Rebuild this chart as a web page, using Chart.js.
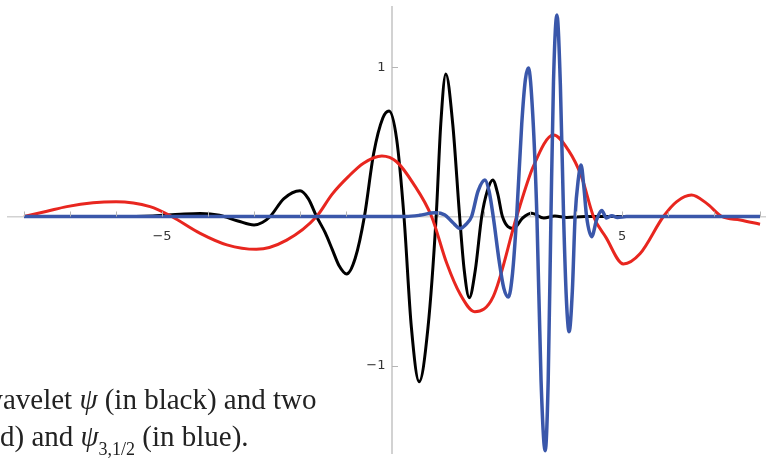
<!DOCTYPE html>
<html>
<head>
<meta charset="utf-8">
<script src="https://cdn.jsdelivr.net/npm/chart.js@4.4.1/dist/chart.umd.min.js"></script>
<style>
  body { margin: 0; background: #fff; }
  #wrap { position: relative; width: 766px; height: 458px; overflow: hidden; }
  .cap { position: absolute; font-family: "Liberation Serif", serif; font-size: 29px; line-height: 1; color: #222; white-space: nowrap; }
  .cap i { font-style: italic; }
  .cap sub { font-size: 18px; vertical-align: -9px; line-height: 0; }
</style>
</head>
<body>
<div id="wrap">
  <canvas id="chart" width="766" height="458"></canvas>
  <div class="cap" style="left:-18px; top:385px;">wavelet <i>ψ</i> (in black) and two</div>
  <div class="cap" style="left:0px; top:422px;">d) and <i>ψ</i><sub>3,1/2</sub> (in blue).</div>
</div>
<script>
// the wavelet psi (black)
const psiX = [-8.0, -6.0, -5.2, -4.6, -4.17, -3.75, -3.35, -3.0, -2.82, -2.65, -2.35, -2.0, -1.82, -1.64,
  -1.45, -1.3, -1.15, -0.985, -0.8, -0.6, -0.4, -0.2, -0.065, 0.1, 0.26, 0.42, 0.59, 0.78, 0.96, 1.06, 1.17,
  1.32, 1.47, 1.57, 1.68, 1.81, 1.95, 2.07, 2.19, 2.3, 2.4, 2.64, 2.84, 3.04, 3.3, 3.54, 3.8, 4.2, 8.0];
const psiY = [0, 0, 0.004, 0.015, 0.02, 0.008, -0.03, -0.057, -0.04, 0, 0.12, 0.173, 0.12, 0,
  -0.11, -0.22, -0.33, -0.385, -0.28, 0, 0.42, 0.66, 0.707, 0.52, 0, -0.74, -1.107, -0.75, 0, 0.62, 0.955,
  0.62, 0, -0.36, -0.544, -0.36, 0, 0.17, 0.245, 0.15, 0, -0.08, -0.01, 0.021, -0.01, 0.003, -0.006, 0, 0];

// dilated copy (red)
const redX = [-8.0, -7.5, -7.07, -6.5, -6.0, -5.26, -4.79, -4.17, -3.59, -2.95, -2.29, -1.64, -1.3,
  -0.95, -0.62, -0.22, 0.1, 0.46, 0.86, 1.19, 1.48, 1.8, 2.2, 2.71, 3.07, 3.51, 3.83, 4.12, 4.38,
  4.65, 5.03, 5.39, 5.9, 6.19, 6.51, 6.84, 7.17, 7.57, 8.0];
const redY = [0, 0.035, 0.066, 0.092, 0.099, 0.066, 0, -0.113, -0.19, -0.22, -0.158, 0, 0.15,
  0.267, 0.357, 0.405, 0.367, 0.222, 0, -0.314, -0.52, -0.638, -0.537, 0, 0.334, 0.546, 0.446, 0.267, 0,
  -0.14, -0.318, -0.25, 0, 0.1, 0.144, 0.088, 0, -0.023, -0.052];

// psi_{3,1/2} (blue)
const blueX = [-8.0, 0.3, 0.6, 0.93, 1.15, 1.32, 1.48, 1.6, 1.73, 1.87, 2.02, 2.11, 2.2, 2.33, 2.43,
  2.53, 2.62, 2.71, 2.82, 2.9, 2.965, 3.06, 3.15, 3.24, 3.33, 3.395, 3.455, 3.51, 3.585, 3.66, 3.73,
  3.79, 3.85, 3.92, 3.98, 4.05, 4.11, 4.17, 4.23, 4.34, 4.45, 4.56, 4.66, 4.78, 4.9, 5.1, 8.0];
const blueY = [0, 0, 0.008, 0.025, 0.01, -0.04, -0.08, -0.055, 0, 0.17, 0.245, 0.17, 0, -0.3, -0.48,
  -0.54, -0.38, 0, 0.62, 0.92, 0.995, 0.68, 0, -1.1, -1.57, -1.1, 0, 0.9, 1.35, 0.88, 0,
  -0.55, -0.772, -0.5, 0, 0.25, 0.345, 0.2, 0, -0.135, -0.02, 0.04, -0.01, 0.005, -0.006, 0, 0];

const xTicks = [-8, -7, -6, -5, -4, -3, -2, -1, 1, 2, 3, 4, 5, 6, 7, 8];
const xLabels = {'-5': '\u22125', '5': '5'};
const yTicks = [-1, 1];
const yLabels = {'-1': '\u22121\u2002', '1': '1\u2002'};

function pts(xs, ys) {
    return xs.map((x, i) => ({x: x, y: ys[i]}));
}

function noPadding(s) {
    s.paddingTop = 0;
    s.paddingBottom = 0;
    s.paddingLeft = 0;
    s.paddingRight = 0;
}

// small tick marks pointing into the plot, like the original
const innerTicks = {
    id: 'innerTicks',
    afterDraw(chart) {
        const ctx = chart.ctx;
        const sx = chart.scales.x, sy = chart.scales.y;
        const x0 = sx.getPixelForValue(0), y0 = sy.getPixelForValue(0);
        ctx.save();
        ctx.strokeStyle = '#b5b5b5';
        ctx.lineWidth = 1;
        ctx.beginPath();
        xTicks.forEach(v => {
            const px = Math.round(sx.getPixelForValue(v)) + 0.5;
            ctx.moveTo(px, y0);
            ctx.lineTo(px, y0 - 5);
        });
        yTicks.forEach(v => {
            const py = Math.round(sy.getPixelForValue(v)) + 0.5;
            ctx.moveTo(x0, py);
            ctx.lineTo(x0 + 6, py);
        });
        ctx.stroke();
        ctx.restore();
    }
};

const tickFont = {family: 'DejaVu Sans', size: 13};

new Chart(document.getElementById('chart'), {
    type: 'line',
    data: {
        datasets: [
            {label: 'psi 3,1/2', data: pts(blueX, blueY), borderColor: '#3a57aa', borderWidth: 3.5},
            {label: 'dilation', data: pts(redX, redY), borderColor: '#e8261f', borderWidth: 3},
            {label: 'psi', data: pts(psiX, psiY), borderColor: '#000000', borderWidth: 3}
        ]
    },
    options: {
        responsive: false,
        animation: false,
        layout: {padding: {left: 8, top: 7, right: 0, bottom: 5}},
        elements: {
            point: {radius: 0},
            line: {cubicInterpolationMode: 'monotone', fill: false}
        },
        plugins: {legend: {display: false}, tooltip: {enabled: false}},
        scales: {
            x: {
                type: 'linear',
                position: {y: 0},
                min: -8.348,
                max: 8.13,
                afterFit: s => { s.height = 0; noPadding(s); },
                afterBuildTicks: s => { s.ticks = xTicks.map(v => ({value: v})); },
                grid: {display: false, drawTicks: false},
                border: {display: true, color: '#d2d2d2', width: 1.5},
                ticks: {
                    autoSkip: false, maxRotation: 0, padding: 12, color: '#333', font: tickFont,
                    callback: v => xLabels[String(v)] || ''
                }
            },
            y: {
                type: 'linear',
                position: {x: 0},
                min: -1.585,
                max: 1.404,
                afterFit: s => { s.width = 0; noPadding(s); },
                afterBuildTicks: s => { s.ticks = yTicks.map(v => ({value: v})); },
                grid: {display: false, drawTicks: false},
                border: {display: true, color: '#d2d2d2', width: 2},
                ticks: {
                    autoSkip: false, padding: 8, color: '#333', font: tickFont,
                    callback: v => yLabels[String(v)] || ''
                }
            }
        }
    },
    plugins: [innerTicks]
});
</script>
</body>
</html>
